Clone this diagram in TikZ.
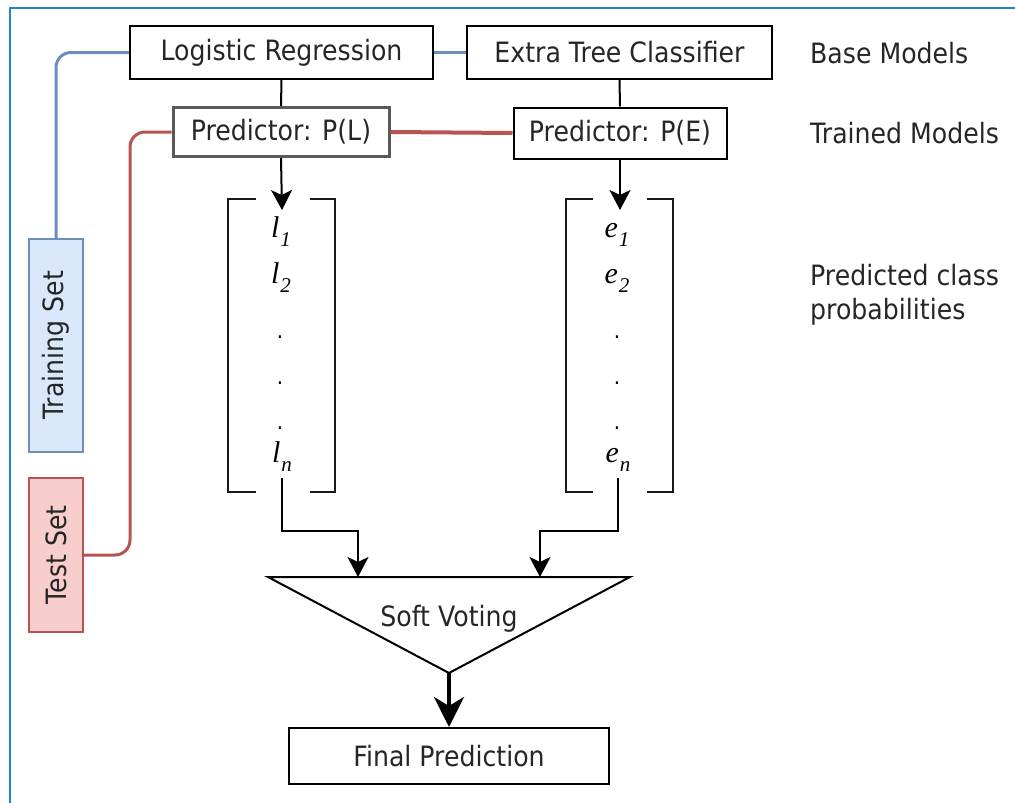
\documentclass[tikz,border=0pt]{standalone}
\usepackage{fontspec}
\setmainfont{DejaVu Sans}[FakeStretch=0.9]
\newfontfamily\mfont{Liberation Serif}
\newcommand{\mvar}[2]{{\mfont\itshape #1}\kern1pt\raisebox{-0.3em}{\fontsize{21}{22}\selectfont\mfont\itshape #2}}
\usetikzlibrary{arrows.meta}
\definecolor{framec}{HTML}{1A88CA}
\definecolor{bluel}{HTML}{6C8EBF}
\definecolor{bluef}{HTML}{DAE8FC}
\definecolor{redl}{HTML}{B85450}
\definecolor{redf}{HTML}{F8CECC}
\definecolor{txtc}{HTML}{262626}
\begin{document}
\begin{tikzpicture}[x=1pt,y=-1pt,
  txt/.style={font=\fontsize{28}{34}\selectfont, text=txtc},
  box/.style={draw=black, line width=2pt, fill=white, inner sep=0pt, txt},
  setbox/.style={line width=2pt, inner sep=0pt, minimum width=54pt},
  mth/.style={font=\fontsize{30}{34}\selectfont, text=black, anchor=base, inner sep=0pt},
  dotn/.style={font=\fontsize{22}{24}\selectfont, text=black, anchor=base, inner sep=0pt},
  brk/.style={line width=2pt, draw=black!90},
  ln/.style={line width=2pt, draw=black},
  arr/.style={ln, -{Stealth[length=20pt,width=21pt,inset=5pt]}},
  bigarr/.style={line width=4pt, draw=black, -{Stealth[length=30pt,width=30pt,inset=9pt]}},
  blueln/.style={line width=3pt, draw=bluel},
  redln/.style={line width=3pt, draw=redl}]
\useasboundingbox (0,0) rectangle (1015,803);
\draw[line width=2.5pt, draw=framec] (1015,8) -- (10,8) -- (10,803);

% base models
\node[box, minimum width=303pt, minimum height=53pt] (LR) at (281.5,52.5) {Logistic Regression};
\node[box, minimum width=305pt, minimum height=53pt] (ET) at (619.5,52.5) {Extra Tree Classifier};
% trained models
\node[box, draw=black!65, line width=3pt, minimum width=216pt, minimum height=49pt] (PL) at (281,132) {Predictor: P(L)};
\node[box, minimum width=213pt, minimum height=51pt] (PE) at (620,133) {Predictor: P(E)};

% right labels
\node[txt, anchor=west, inner sep=0pt] (BM) at (810,53) {Base Models};
\node[txt, anchor=west, inner sep=0pt] (TM) at (810,133) {Trained Models};
\node[txt, anchor=west, inner sep=0pt, align=left] (PC) at (810,295) {Predicted class\\probabilities};

% sets
\node[setbox, draw=bluel, fill=bluef, minimum height=213pt] (TS) at (56,345.5) {};
\node[txt, rotate=90] (TSl) at (TS.center) {Training Set};
\node[setbox, draw=redl, fill=redf, minimum height=154pt] (TE) at (56,555) {};
\node[txt, rotate=90] (TEl) at (TE.center) {Test Set};

\draw[blueln, rounded corners=15pt] (LR.west) -| (TS.north);
\draw[blueln] (LR.east) -- (ET.west);
\coordinate (rc) at (130,555);
\draw[redln, rounded corners=15pt] (PL.west) -| (rc) -- (TE.east);
\draw[redln, line width=4pt] (PL.east) -- (PE.west);

\draw[ln] (LR.south) -- (PL.north);
\draw[ln] (ET.south) -- (PE.north);

% brackets L
\draw[brk] (256,199) -- (228,199) -- (228,492) -- (256,492);
\draw[brk] (310,199) -- (335,199) -- (335,492) -- (310,492);
% brackets E
\draw[brk] (593,199) -- (566,199) -- (566,492) -- (593,492);
\draw[brk] (647,199) -- (673,199) -- (673,492) -- (647,492);

% L column
\node[mth] (l1) at (281,237) {\mvar{l}{1}};
\node[mth] (l2) at (281,283) {\mvar{l}{2}};
\node[dotn] (ld1) at (280,338) {.};
\node[dotn] (ld2) at (280,384) {.};
\node[dotn] (ld3) at (280,429) {.};
\node[mth] (ln) at (282,462) {\mvar{l}{n}};
% E column
\node[mth] (e1) at (617,237) {\mvar{e}{1}};
\node[mth] (e2) at (617,283) {\mvar{e}{2}};
\node[dotn] (ed1) at (617,338) {.};
\node[dotn] (ed2) at (617,384) {.};
\node[dotn] (ed3) at (617,429) {.};
\node[mth] (en) at (618,462) {\mvar{e}{n}};

\coordinate (Ltop) at (282,210);
\coordinate (Etop) at (620,210);
\draw[arr] (PL.south) -- (Ltop);
\draw[arr] (PE.south) -- (Etop);

% soft voting triangle
\coordinate (T1) at (268,577);
\coordinate (T2) at (630,577);
\coordinate (T3) at (449,673);
\draw[ln, line join=miter] (T1) -- (T2) -- (T3) -- cycle;
\node[txt] (SV) at (449,619) {Soft Voting};
\coordinate (SVa) at (358,577);
\coordinate (SVb) at (540,577);
\coordinate (Lbot) at (282,478);
\coordinate (Ebot) at (618,478);
\draw[arr] (Lbot) -- ++(0,53) -| (SVa);
\draw[arr] (Ebot) -- ++(0,53) -| (SVb);

% final
\node[box, minimum width=320pt, minimum height=56pt] (FP) at (449,756) {Final Prediction};
\draw[bigarr] (T3) -- (FP.north);
\end{tikzpicture}
\end{document}
